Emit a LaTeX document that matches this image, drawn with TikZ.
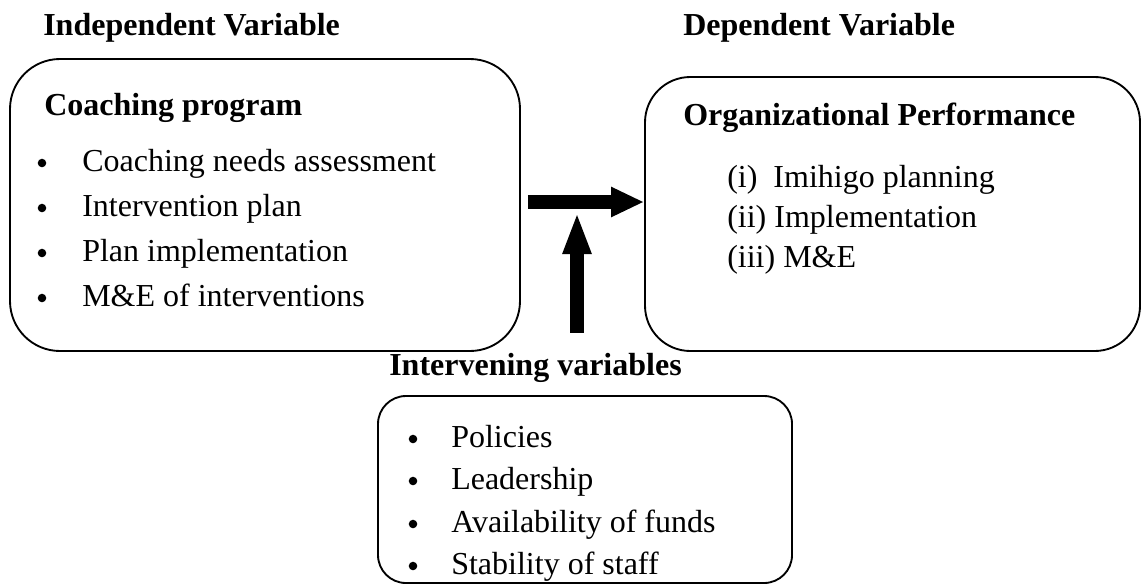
\documentclass[tikz,border=0pt]{standalone}
\usepackage{fontspec}
\setmainfont{Liberation Serif}
\usetikzlibrary{arrows.meta, positioning, calc}

\begin{document}
\begin{tikzpicture}[x=0.75pt, y=-0.75pt, font=\fontsize{24}{28}\selectfont]

    \tikzset{% styles for the boxes, the texts and the thick arrows
        box/.style={draw, line width=1.4pt, rounded corners=#1, inner sep=0pt},
        head/.style={anchor=base west, inner sep=0pt, font=\fontsize{24}{28}\selectfont\bfseries},
        item/.style={anchor=base west, inner sep=0pt},
        dot/.style={circle, fill, inner sep=0pt, minimum size=6.4pt},
        hfat/.style={line width=10.5pt, -{Triangle[length=24.75pt, width=21pt]}},
        vfat/.style={line width=10.5pt, -{Triangle[length=31.5pt, width=19.5pt]}}
    }

    \useasboundingbox (0,0) rectangle (1144,586);

    % the three boxes
    \node [box=37.5pt, minimum width=382.5pt, minimum height=219pt] (iv) at (265,205) {};
    \node [box=34pt, minimum width=371.25pt, minimum height=205.5pt] (dv) at (892.5,214) {};
    \node [box=21pt, minimum width=310.5pt, minimum height=140.25pt] (mv) at (585,489.5) {};

    \node [head] (iv_head) at (43,35) {Independent Variable};
    \node [head] (dv_head) at (683,35) {Dependent Variable};
    \node [head] (mv_head) at (389,375) {Intervening variables};

    \node [head] (iv_title) at (44,115) {Coaching program};
    \node [head] (dv_title) at (683,125) {Organizational Performance};

    % coaching program
    \node [dot] (iv_b1) at (42,163) {};
    \node [dot] (iv_b2) at (42,208) {};
    \node [dot] (iv_b3) at (42,253) {};
    \node [dot] (iv_b4) at (42,298) {};
    \node [item] (iv_1) at (82,171) {Coaching needs assessment};
    \node [item] (iv_2) at (82,216) {Intervention plan};
    \node [item] (iv_3) at (82,261) {Plan implementation};
    \node [item] (iv_4) at (82,306) {M\&E of interventions};

    % performance
    \node [item] (dv_1) at (727,187) {(i)~ Imihigo planning};
    \node [item] (dv_2) at (727,227) {(ii) Implementation};
    \node [item] (dv_3) at (727,267) {(iii) M\&E};

    % intervening variables
    \node [dot] (mv_b1) at (413,439) {};
    \node [dot] (mv_b2) at (413,481) {};
    \node [dot] (mv_b3) at (413,524) {};
    \node [dot] (mv_b4) at (413,566) {};
    \node [item] (mv_1) at (451,447) {Policies};
    \node [item] (mv_2) at (451,489) {Leadership};
    \node [item] (mv_3) at (451,532) {Availability of funds};
    \node [item] (mv_4) at (451,574) {Stability of staff};

    \coordinate (tee) at (577,202);

    \draw [hfat] ([shift={(7,-3)}]iv.east) -- (dv.west |- tee);
    \draw [vfat] ($(tee |- mv_head.north)+(0,-20)$) -- ([shift={(0,10)}]tee);

\end{tikzpicture}
\end{document}
